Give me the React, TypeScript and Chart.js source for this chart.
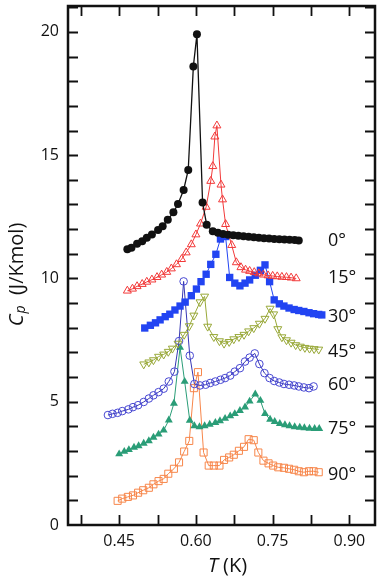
import React, { useEffect, useRef } from "react";
import { Chart, registerables } from "chart.js";

Chart.register(...registerables);

// ---- data (T in K, Cp in J/Kmol) ----
const T0 = [0.466,0.474,0.485,0.495,0.504,0.514,0.526,0.535,0.545,0.556,0.565,0.576,0.585,0.595,0.602,0.613,0.621,
  0.633,0.643,0.653,0.663,0.673,0.683,0.693,0.703,0.713,0.723,0.733,0.743,0.753,0.763,0.773,0.783,0.793,0.801];
const CP0 = [11.18,11.24,11.41,11.51,11.65,11.78,11.96,12.12,12.38,12.68,13.02,13.59,14.4,18.6,19.9,13.08,12.18,
  11.91,11.85,11.8,11.77,11.75,11.73,11.71,11.69,11.67,11.65,11.63,11.62,11.6,11.59,11.58,11.57,11.56,11.54];

const T15 = [0.466,0.476,0.485,0.495,0.504,0.514,0.524,0.533,0.543,0.552,0.562,0.572,0.581,0.591,0.600,0.609,0.620,
  0.629,0.633,0.637,0.641,0.649,0.652,0.658,0.670,0.679,0.688,0.697,0.705,0.714,0.723,0.732,0.741,0.750,0.759,0.768,0.777,0.786,0.796];
const CP15 = [9.5,9.58,9.68,9.77,9.86,9.95,10.05,10.15,10.26,10.4,10.57,10.78,11.05,11.38,11.78,12.22,12.9,
  13.95,14.55,15.75,16.2,13.8,13.2,12.2,11.35,10.65,10.45,10.35,10.3,10.25,10.2,10.15,10.12,10.1,10.08,10.06,10.05,10.03,10.0];

const T30 = [0.500,0.511,0.521,0.530,0.540,0.549,0.559,0.569,0.579,0.591,0.601,0.610,0.620,0.629,0.639,0.648,0.658,
  0.666,0.676,0.686,0.696,0.705,0.716,0.726,0.735,0.744,0.753,0.763,0.772,0.782,0.792,0.801,0.811,0.821,0.830,0.840,0.846];
const CP30 = [7.99,8.1,8.2,8.32,8.45,8.55,8.72,8.88,9.04,9.3,9.57,9.87,10.17,10.57,10.98,11.6,11.7,
  10.04,9.81,9.7,9.81,9.94,10.13,10.33,10.55,9.87,9.13,8.97,8.88,8.8,8.74,8.7,8.66,8.61,8.57,8.54,8.52];

const T45 = [0.498,0.508,0.517,0.527,0.537,0.546,0.554,0.565,0.577,0.587,0.596,0.608,0.617,
  0.623,0.635,0.646,0.655,0.665,0.674,0.684,0.694,0.703,0.713,0.724,0.735,0.745,
  0.752,0.760,0.768,0.777,0.786,0.795,0.804,0.813,0.822,0.831,0.840];
const CP45 = [6.52,6.6,6.69,6.83,6.92,7.03,7.16,7.36,7.72,8.07,8.5,9.04,9.27,
  8.05,7.63,7.46,7.36,7.43,7.54,7.63,7.72,7.86,7.99,8.17,8.37,8.78,
  8.55,7.95,7.62,7.5,7.4,7.3,7.24,7.19,7.16,7.14,7.12];

const T60 = [0.428,0.437,0.447,0.456,0.468,0.477,0.487,0.498,0.508,0.517,0.527,0.537,0.547,
  0.558,0.567,0.576,0.588,0.597,
  0.608,0.619,0.628,0.638,0.648,0.657,0.667,0.676,0.686,0.696,0.705,0.715,
  0.724,0.734,0.744,0.753,0.763,0.772,0.782,0.792,0.801,0.811,0.821,0.830];
const CP60 = [4.46,4.51,4.55,4.62,4.69,4.78,4.86,4.99,5.13,5.26,5.39,5.53,5.82,
  6.22,7.46,9.88,6.87,5.72,
  5.66,5.69,5.76,5.82,5.89,5.96,6.06,6.22,6.36,6.63,6.79,6.96,
  6.53,6.16,5.96,5.84,5.78,5.72,5.69,5.66,5.62,5.58,5.55,5.62];

const T75 = [0.450,0.460,0.469,0.479,0.488,0.498,0.508,0.517,0.527,0.537,0.547,0.557,
  0.569,0.578,0.588,0.597,
  0.607,0.617,0.627,0.638,0.647,0.657,0.667,0.676,0.686,0.696,0.705,0.716,
  0.726,0.735,0.745,0.754,0.764,0.774,0.783,0.793,0.803,0.812,0.822,0.832,0.841];
const CP75 = [2.88,2.98,3.05,3.15,3.21,3.31,3.41,3.55,3.68,3.84,4.25,4.93,
  7.2,5.82,4.24,4.02,
  3.98,4.02,4.08,4.15,4.22,4.32,4.42,4.51,4.64,4.78,5.02,5.31,
  5.05,4.51,4.28,4.19,4.11,4.06,4.02,3.98,3.96,3.94,3.92,3.91,3.91];

const T90 = [0.447,0.456,0.467,0.477,0.487,0.497,0.508,0.517,0.527,0.537,0.546,0.557,0.567,0.577,0.587,0.596,
  0.604,
  0.615,0.625,0.635,0.646,0.655,0.665,0.674,0.684,0.694,0.703,0.713,
  0.722,0.732,0.742,0.751,0.761,0.772,0.782,0.792,0.801,0.811,0.821,0.830,0.840];
const CP90 = [0.98,1.07,1.14,1.2,1.31,1.41,1.51,1.65,1.78,1.87,2.08,2.28,2.54,2.98,3.41,5.55,
  6.2,
  2.94,2.41,2.41,2.41,2.64,2.74,2.85,3.01,3.17,3.48,3.44,
  2.94,2.61,2.5,2.41,2.34,2.32,2.28,2.24,2.18,2.14,2.18,2.18,2.14];

const ANGLE_LABELS = ["0°", "15°", "30°", "45°", "60°", "75°", "90°"];
const ANGLE_LABEL_Y = [11.53, 10.04, 8.43, 7.03, 5.7, 3.9, 2.05];
const ANGLE_LABEL_X = 0.858;

const X_MIN = 0.35;
const X_MAX = 0.95;
const Y_MIN = 0;
const Y_MAX = 21.05;
const X_TICKS = [0.45, 0.6, 0.75, 0.9];
const X_TICK_LABELS = ["0.45", "0.60", "0.75", "0.90"];
const X_MINOR = [0.375, 0.45, 0.525, 0.6, 0.675, 0.75, 0.825, 0.9];
const Y_TICKS = [0, 5, 10, 15, 20];
const Y_TICK_LABELS = ["0", "5", "10", "15", "20"];
const Y_MINOR = [1, 2, 3, 4, 5, 6, 7, 8, 9, 10, 11, 12, 13, 14, 15, 16, 17, 18, 19, 20, 21];

const FONT = '"Open Sans", "Liberation Sans", sans-serif';

function pts(xs: number[], ys: number[]) {
  return xs.map((x, i) => ({ x, y: ys[i] }));
}

const framePlugin = {
  id: "frame",
  afterDraw(chart: any) {
    const { ctx, chartArea: a } = chart;
    const xs = chart.scales.x;
    const ys = chart.scales.y;
    ctx.save();
    ctx.strokeStyle = "#111";
    ctx.lineWidth = 2.5;
    ctx.strokeRect(a.left, a.top, a.right - a.left, a.bottom - a.top);
    const L = 10;
    ctx.lineWidth = 1.8;
    ctx.beginPath();
    X_MINOR.forEach((v) => {
      const px = Math.round(xs.getPixelForValue(v)) + 0.5;
      ctx.moveTo(px, a.bottom);
      ctx.lineTo(px, a.bottom - L);
      ctx.moveTo(px, a.top);
      ctx.lineTo(px, a.top + L);
    });
    Y_MINOR.forEach((v) => {
      const py = Math.round(ys.getPixelForValue(v)) + 0.5;
      ctx.moveTo(a.left, py);
      ctx.lineTo(a.left + L, py);
      ctx.moveTo(a.right, py);
      ctx.lineTo(a.right - L, py);
    });
    ctx.stroke();

    ctx.fillStyle = "#111";
    ctx.font = `16px ${FONT}`;
    ctx.textAlign = "right";
    ctx.textBaseline = "middle";
    Y_TICKS.forEach((v, i) => {
      ctx.fillText(Y_TICK_LABELS[i], a.left - 9, ys.getPixelForValue(v));
    });
    ctx.textAlign = "center";
    X_TICKS.forEach((v, i) => {
      ctx.fillText(X_TICK_LABELS[i], xs.getPixelForValue(v), a.bottom + 16);
    });

    // angle labels
    ctx.font = `18px ${FONT}`;
    ctx.textAlign = "left";
    ANGLE_LABELS.forEach((s, i) => {
      ctx.fillText(s, xs.getPixelForValue(ANGLE_LABEL_X), ys.getPixelForValue(ANGLE_LABEL_Y[i]));
    });

    // x title: T (K)
    const xc = (a.left + a.right) / 2 + 6;
    const yb = a.bottom + 41;
    ctx.textBaseline = "middle";
    ctx.font = `italic 20px ${FONT}`;
    const wT = ctx.measureText("T").width;
    ctx.font = `20px ${FONT}`;
    const wR = ctx.measureText(" (K)").width;
    let sx = xc - (wT + wR) / 2;
    ctx.textAlign = "left";
    ctx.font = `italic 20px ${FONT}`;
    ctx.fillText("T", sx, yb);
    ctx.font = `20px ${FONT}`;
    ctx.fillText(" (K)", sx + wT, yb);

    // y title: Cp (J/Kmol)
    ctx.save();
    ctx.translate(17, 275);
    ctx.rotate(-Math.PI / 2);
    ctx.font = `italic 20px ${FONT}`;
    const wC = ctx.measureText("C").width;
    ctx.font = `italic 14px ${FONT}`;
    const wp = ctx.measureText("p").width;
    ctx.font = `20px ${FONT}`;
    const wU = ctx.measureText("  (J/Kmol)").width;
    const tot = wC + wp + wU;
    let s = -tot / 2;
    ctx.font = `italic 20px ${FONT}`;
    ctx.fillText("C", s, 0);
    s += wC + 1;
    ctx.font = `italic 14px ${FONT}`;
    ctx.fillText("p", s, 4);
    s += wp;
    ctx.font = `20px ${FONT}`;
    ctx.fillText("  (J/Kmol)", s, 0);
    ctx.restore();

    ctx.restore();
  },
};

export default function App() {
  const ref = useRef<HTMLCanvasElement | null>(null);

  useEffect(() => {
    if (!ref.current) return;
    const clear = "rgba(255,255,255,0)";
    const chart = new Chart(ref.current, {
      type: "scatter",
      data: {
        datasets: [
          {
            label: "0°", data: pts(T0, CP0), showLine: true,
            borderColor: "#111", backgroundColor: "#111", borderWidth: 1.3,
            pointStyle: "circle", pointRadius: 4, pointBorderWidth: 0, pointBackgroundColor: "#111",
          },
          {
            label: "15°", data: pts(T15, CP15), showLine: true,
            borderColor: "#f23a3a", backgroundColor: clear, borderWidth: 1,
            pointStyle: "triangle", pointRadius: 4.6, pointBorderWidth: 1, pointBorderColor: "#f23a3a", pointBackgroundColor: clear,
          },
          {
            label: "30°", data: pts(T30, CP30), showLine: true,
            borderColor: "#2244f2", backgroundColor: "#2244f2", borderWidth: 1,
            pointStyle: "rect", pointRadius: 5.2, pointBorderWidth: 0, pointBackgroundColor: "#2244f2",
          },
          {
            label: "45°", data: pts(T45, CP45), showLine: true,
            borderColor: "#98a838", backgroundColor: clear, borderWidth: 1,
            pointStyle: "triangle", pointRotation: 180, pointRadius: 4.6, pointBorderWidth: 1, pointBorderColor: "#98a838", pointBackgroundColor: clear,
          },
          {
            label: "60°", data: pts(T60, CP60), showLine: true,
            borderColor: "#3636b4", backgroundColor: clear, borderWidth: 1,
            pointStyle: "circle", pointRadius: 3.8, pointBorderWidth: 1, pointBorderColor: "#4848d2", pointBackgroundColor: clear,
          },
          {
            label: "75°", data: pts(T75, CP75), showLine: true,
            borderColor: "#2a9d77", backgroundColor: "#2a9d77", borderWidth: 1,
            pointStyle: "triangle", pointRadius: 4.6, pointBorderWidth: 0, pointBackgroundColor: "#2a9d77",
          },
          {
            label: "90°", data: pts(T90, CP90), showLine: true,
            borderColor: "#f7864a", backgroundColor: clear, borderWidth: 1,
            pointStyle: "rect", pointRadius: 5, pointBorderWidth: 1, pointBorderColor: "#f7864a", pointBackgroundColor: clear,
          },
        ],
      },
      options: {
        responsive: false,
        maintainAspectRatio: false,
        animation: false,
        layout: { padding: { left: 68, right: 1, top: 1, bottom: 54 } },
        plugins: { legend: { display: false }, tooltip: { enabled: false } },
        elements: { line: { tension: 0 } },
        scales: {
          x: { type: "linear", min: X_MIN, max: X_MAX, display: false },
          y: { type: "linear", min: Y_MIN, max: Y_MAX, display: false },
        },
      },
      plugins: [framePlugin],
    });
    return () => chart.destroy();
  }, []);

  return (
    <div style={{ position: "fixed", left: 0, top: 0, width: 381, height: 579, background: "#fff" }}>
      <canvas ref={ref} width={381} height={579} style={{ display: "block", width: 381, height: 579 }} />
    </div>
  );
}
